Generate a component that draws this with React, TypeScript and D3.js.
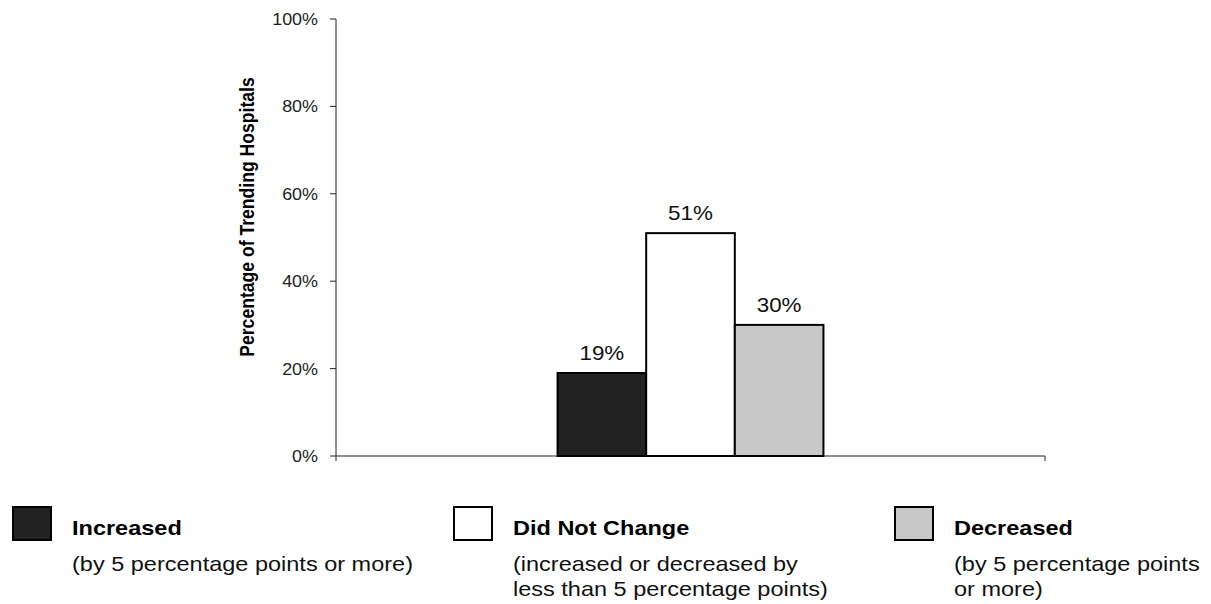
import React from "react";
import * as d3 from "d3";

const categories = ["Increased", "Did Not Change", "Decreased"];
const values = [19, 51, 30];
const valueLabels = ["19%", "51%", "30%"];
const colors = ["#222222", "#ffffff", "#c8c8c8"];
const yTicks = [0, 20, 40, 60, 80, 100];
const legendSub = [
  ["(by 5 percentage points or more)"],
  ["(increased or decreased by", "less than 5 percentage points)"],
  ["(by 5 percentage points", "or more)"],
];
const legendX = [13, 454, 895];
const yTitle = "Percentage of Trending Hospitals";

const W = 1211;
const H = 604;
const SX = 1.12;
const FONT = "'Liberation Sans', Arial, sans-serif";

export default function App() {
  const left = 336, right = 1045, top = 19, bottom = 456;
  const y = d3.scaleLinear().domain([0, 100]).range([bottom, top]);
  const x = d3.scaleBand().domain(categories).range([left, right]).paddingInner(0).paddingOuter(2.5);

  const T = (props: any) => {
    const { x: tx, y: ty, children, ...rest } = props;
    return (
      <text transform={`translate(${tx},${ty}) scale(${SX},1)`} fontFamily={FONT} {...rest}>
        {children}
      </text>
    );
  };

  return (
    <svg width={W} height={H} style={{ position: "absolute", left: 0, top: 0, display: "block", background: "#fff" }}>
      {/* y axis */}
      <line x1={left} x2={left} y1={top} y2={bottom + 5} stroke="#222" strokeWidth={1} />
      {yTicks.map((t) => (
        <g key={t}>
          <line x1={left - 6} x2={left} y1={y(t)} y2={y(t)} stroke="#222" strokeWidth={1} />
          <T x={318} y={y(t) + 6} textAnchor="end" fontSize={16} fill="#222">{`${t}%`}</T>
        </g>
      ))}
      {/* x axis */}
      <line x1={left} x2={right} y1={bottom} y2={bottom} stroke="#222" strokeWidth={1} />
      <line x1={right} x2={right} y1={bottom} y2={bottom + 5} stroke="#222" strokeWidth={1} />

      {/* y title */}
      <text
        transform={`translate(254,217) rotate(-90) scale(1,${SX})`}
        textAnchor="middle"
        fontFamily={FONT}
        fontWeight="bold"
        fontSize={17.6}
        fill="#000"
      >
        {yTitle}
      </text>

      {/* bars */}
      {categories.map((c, i) => (
        <g key={c}>
          <rect
            x={x(c)!}
            y={y(values[i])}
            width={x.bandwidth()}
            height={bottom - y(values[i])}
            fill={colors[i]}
            stroke="#000"
            strokeWidth={2}
          />
          <T x={x(c)! + x.bandwidth() / 2} y={y(values[i]) - 13} textAnchor="middle" fontSize={20} fill="#111">
            {valueLabels[i]}
          </T>
        </g>
      ))}

      {/* legend */}
      {categories.map((c, i) => (
        <g key={"lg" + c}>
          <rect x={legendX[i]} y={507} width={38} height={33} fill={colors[i]} stroke="#000" strokeWidth={2} />
          <T x={legendX[i] + 59} y={535} fontSize={21} fontWeight="bold" fill="#000">{c}</T>
          {legendSub[i].map((s, j) => (
            <T key={j} x={legendX[i] + 59} y={571 + j * 25} fontSize={21} fill="#111">{s}</T>
          ))}
        </g>
      ))}
    </svg>
  );
}
